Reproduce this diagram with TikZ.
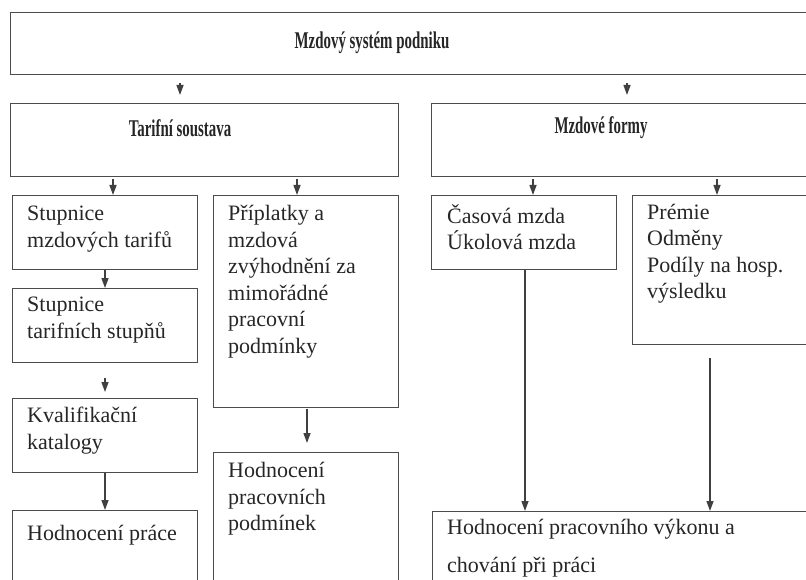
\documentclass[tikz,border=0pt]{standalone}
\usepackage{fontspec}
\setmainfont{Liberation Serif}
\newfontfamily\headfont[FakeStretch=0.62]{Liberation Serif}
\usetikzlibrary{arrows.meta}

\begin{document}
\begin{tikzpicture}[x=1pt,y=-1pt,>={Triangle[length=10pt,width=7pt]},
  box/.style={draw=black!70,line width=1.3pt,anchor=north west,inner sep=0pt},
  txt/.style={anchor=north west,align=left,inner sep=0pt,text=black!85,
    font=\fontsize{22}{26.5}\selectfont,execute at begin node=\rule{0pt}{20pt}},
  head/.style={inner sep=0pt,text=black!85,font=\headfont\bfseries\fontsize{24}{28}\selectfont},
  arr/.style={->,line width=1.3pt,black!75}]
  \useasboundingbox (0,0) rectangle (806,580);
  \clip (0,0) rectangle (806,580);
  % top level
  \node[box,minimum width=830pt,minimum height=62pt] (sys) at (10,12) {};
  \node[head] (sys-t) at (372,43) {Mzdový systém podniku};
  \node[box,minimum width=388pt,minimum height=73pt] (tar) at (10,103) {};
  \node[head] (tar-t) at (180,128) {Tarifní soustava};
  \node[box,minimum width=400pt,minimum height=73pt] (form) at (431,103) {};
  \node[head] (form-t) at (601,128) {Mzdové formy};
  % tarifni soustava
  \node[box,minimum width=185pt,minimum height=74pt] (stup1) at (12,195) {};
  \node[txt] at ([shift={(15,11)}]stup1.north west) {Stupnice\\mzdových tarifů};
  \node[box,minimum width=185pt,minimum height=74pt] (stup2) at (12,288) {};
  \node[txt] at ([shift={(15,9)}]stup2.north west) {Stupnice\\tarifních stupňů};
  \node[box,minimum width=185pt,minimum height=74pt] (kval) at (12,398) {};
  \node[txt] at ([shift={(15,9)}]kval.north west) {Kvalifikační\\katalogy};
  \node[box,minimum width=185pt,minimum height=100pt] (hodp) at (12,510) {};
  \node[txt] at ([shift={(15,10)}]hodp.north west) {Hodnocení práce};
  \node[box,minimum width=185pt,minimum height=212pt] (prip) at (213,195) {};
  \node[txt] at ([shift={(15,10)}]prip.north west)
    {Příplatky a\\mzdová\\zvýhodnění za\\mimořádné\\pracovní\\podmínky};
  \node[box,minimum width=185pt,minimum height=150pt] (podm) at (213,452) {};
  \node[txt] at ([shift={(15,10)}]podm.north west) {Hodnocení\\pracovních\\podmínek};
  % mzdove formy
  \node[box,minimum width=185pt,minimum height=74pt] (cas) at (431,195) {};
  \node[txt] at ([shift={(16,9)}]cas.north west) {Časová mzda\\Úkolová mzda};
  \node[box,minimum width=200pt,minimum height=149pt] (prem) at (632,195) {};
  \node[txt] at ([shift={(15,9)}]prem.north west) {Prémie\\Odměny\\Podíly na hosp.\\výsledku};
  \node[box,minimum width=400pt,minimum height=100pt] (vykon) at (432,511) {};
  \node[txt,font=\fontsize{22}{38}\selectfont] at ([shift={(15,8)}]vykon.north west)
    {Hodnocení pracovního výkonu a\\chování při práci};
  % arrows
  \draw[arr,shorten <=8pt,shorten >=8pt] (sys.south -| 180,0) -- (tar.north -| 180,0);
  \draw[arr,shorten <=8pt,shorten >=8pt] (sys.south -| 627,0) -- (form.north -| 627,0);
  \draw[arr,shorten <=2pt] (tar.south -| 113,0) -- (stup1.north -| 113,0);
  \draw[arr,shorten <=2pt] (tar.south -| 297,0) -- (prip.north -| 297,0);
  \draw[arr,shorten <=2pt] (form.south -| 533,0) -- (cas.north -| 533,0);
  \draw[arr,shorten <=2pt] (form.south -| 717,0) -- (prem.north -| 717,0);
  \draw[arr] (stup1.south -| 105,0) -- (stup2.north -| 105,0);
  \draw[arr,shorten <=15pt,shorten >=6pt] (stup2.south -| 105,0) -- (kval.north -| 105,0);
  \draw[arr] (kval.south -| 105,0) -- (hodp.north -| 105,0);
  \draw[arr,shorten <=1pt,shorten >=9pt] (prip.south -| 307,0) -- (podm.north -| 307,0);
  \draw[arr] (cas.south -| 525,0) -- (vykon.north -| 525,0);
  \draw[arr,shorten <=13pt] (prem.south -| 710,0) -- (vykon.north -| 710,0);
\end{tikzpicture}
\end{document}
